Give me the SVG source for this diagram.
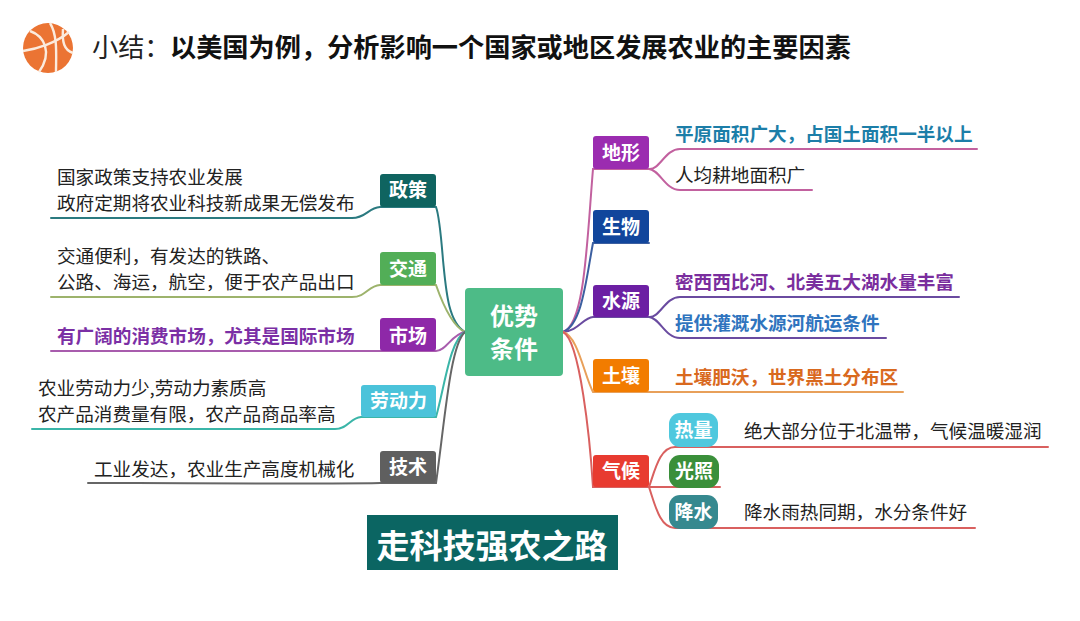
<svg xmlns="http://www.w3.org/2000/svg" width="1080" height="621" viewBox="0 0 1080 621">
<style>
text{font-family:"Noto Sans CJK SC","Noto Sans",sans-serif}
.n{font-size:19px;font-weight:700;fill:#fff;text-anchor:middle}
.t{font-size:18.6px;fill:#222}
.b{font-size:18.6px;font-weight:700}
.c{fill:none;stroke-width:2;stroke-linecap:round}
</style>
<rect width="1080" height="621" fill="#fff"/>
<g id="logo">
<circle cx="48" cy="48" r="25" fill="#EB7433"/>
<g fill="none" stroke="#FBEBDD" stroke-width="2.4">
<path d="M23 51C37 49 56 43 69 32"/>
<path d="M30 31C44 36 53 52 39 72"/>
<path d="M50 23C58 36 56 56 56 72"/>
<path d="M63 29C62 42 64 50 73 53"/>
</g>
</g>
<g id="title">
<text x="92" y="57" font-size="26.200" fill="#222">小结：</text>
<text x="170" y="57" font-size="26.200" font-weight="700" fill="#111">以美国为例，分析影响一个国家或地区发展农业的主要因素</text>
</g>
<g id="connectors">
<path class="c" stroke="#2B7A80" d="M465 332C448 322 446 290 443 260C441 235 439 215 436 207H380C368 208 366 218 352 218H51"/>
<path class="c" stroke="#9DB36C" d="M465 332C452 326 443 305 436 285H380C368 286 366 297 352 297H51"/>
<path class="c" stroke="#A85CAD" d="M465 332C452 334 446 351 436 351H51"/>
<path class="c" stroke="#3BB5A8" d="M465 332C450 340 445 385 436 417H361C350 418 348 429 335 429H32"/>
<path class="c" stroke="#666" d="M465 332C450 345 445 420 436 483H380C360 484 120 483 88 483"/>
<path class="c" stroke="#C2619F" d="M563 332C585 325 587 240 593 169H649C660 170 665 149 680 149H977"/>
<path class="c" stroke="#C2619F" d="M649 169C660 170 665 190 680 190H812"/>
<path class="c" stroke="#3C5FA0" d="M563 332C582 325 586 280 593 243H649"/>
<path class="c" stroke="#6A4BA0" d="M563 332C578 331 583 318 593 317H649C660 318 665 297 680 297H959"/>
<path class="c" stroke="#6A4BA0" d="M649 317C660 318 665 338 680 338H886"/>
<path class="c" stroke="#E8A05A" d="M563 332C578 336 584 375 593 392H903"/>
<path class="c" stroke="#D9605F" d="M563 332C580 340 590 440 593 487H649C655 470 660 447 675 447H1048"/>
<path class="c" stroke="#D9605F" d="M649 487H720"/>
<path class="c" stroke="#D9605F" d="M649 487C655 505 660 528 675 528H975"/>
</g>
<g id="center"><rect x="465" y="288" width="98" height="88" rx="4" fill="#4DBB87"/>
<text x="514" y="325" font-size="24" font-weight="700" fill="#fff" text-anchor="middle">优势</text>
<text x="514" y="358" font-size="24" font-weight="700" fill="#fff" text-anchor="middle">条件</text></g>
<g id="zc"><rect x="380" y="174" width="56" height="33" rx="3" fill="#0F6460"/><text class="n" x="408" y="197">政策</text>
<text class="t" x="57" y="184">国家政策支持农业发展</text><text class="t" x="57" y="210">政府定期将农业科技新成果无偿发布</text></g>
<g id="jt"><rect x="380" y="252" width="56" height="33" rx="3" fill="#52AE57"/><text class="n" x="408" y="276">交通</text>
<text class="t" x="57" y="263">交通便利，有发达的铁路、</text><text class="t" x="57" y="289">公路、海运，航空，便于农产品出口</text></g>
<g id="sc"><rect x="380" y="318" width="56" height="33" rx="3" fill="#8E28A8"/><text class="n" x="408" y="343">市场</text>
<text class="b" x="57" y="343" fill="#7B2FA5">有广阔的消费市场，尤其是国际市场</text></g>
<g id="ldl"><rect x="361" y="385" width="75" height="32" rx="3" fill="#4BC3DA"/><text class="n" x="398.500" y="408">劳动力</text>
<text class="t" x="38" y="395">农业劳动力少,劳动力素质高</text><text class="t" x="38" y="421">农产品消费量有限，农产品商品率高</text></g>
<g id="js"><rect x="380" y="451" width="56" height="32" rx="3" fill="#5F5F5F"/><text class="n" x="408" y="474">技术</text>
<text class="t" x="94" y="476">工业发达，农业生产高度机械化</text></g>
<g id="dx"><rect x="593" y="136" width="56" height="33" rx="3" fill="#9B2CB0"/><text class="n" x="621" y="160">地形</text>
<text class="b" x="675" y="141" fill="#1C7EA8">平原面积广大，占国土面积一半以上</text><text class="t" x="675" y="182">人均耕地面积广</text></g>
<g id="sw"><rect x="593" y="210" width="56" height="33" rx="3" fill="#11469C"/><text class="n" x="621" y="234">生物</text></g>
<g id="sy"><rect x="593" y="285" width="56" height="32" rx="3" fill="#6C1FA3"/><text class="n" x="621" y="308">水源</text>
<text class="b" x="675" y="289" fill="#7A2E9E">密西西比河、北美五大湖水量丰富</text><text class="b" x="675" y="330" fill="#2F74BE">提供灌溉水源河航运条件</text></g>
<g id="tr"><rect x="593" y="359" width="56" height="33" rx="3" fill="#F27C00"/><text class="n" x="621" y="383">土壤</text>
<text class="b" x="675" y="384" fill="#D9691E">土壤肥沃，世界黑土分布区</text></g>
<g id="qh"><rect x="593" y="455" width="56" height="32" rx="3" fill="#E83B30"/><text class="n" x="621" y="478">气候</text></g>
<g id="rl"><rect x="669" y="413" width="49" height="34" rx="11" fill="#4FC8DE"/><text class="n" x="693.500" y="437">热量</text>
<text class="t" x="744" y="438">绝大部分位于北温带，气候温暖湿润</text></g>
<g id="gz"><rect x="669" y="455" width="50" height="33" rx="11" fill="#3A8F3A"/><text class="n" x="694" y="478">光照</text></g>
<g id="js2"><rect x="669" y="495" width="49" height="34" rx="11" fill="#36898F"/><text class="n" x="693.500" y="519">降水</text>
<text class="t" x="744" y="519">降水雨热同期，水分条件好</text></g>
<g id="road"><rect x="367" y="515" width="251" height="55" fill="#0B6562"/>
<text x="492" y="558" font-size="33" font-weight="700" fill="#fff" text-anchor="middle">走科技强农之路</text></g>
</svg>
